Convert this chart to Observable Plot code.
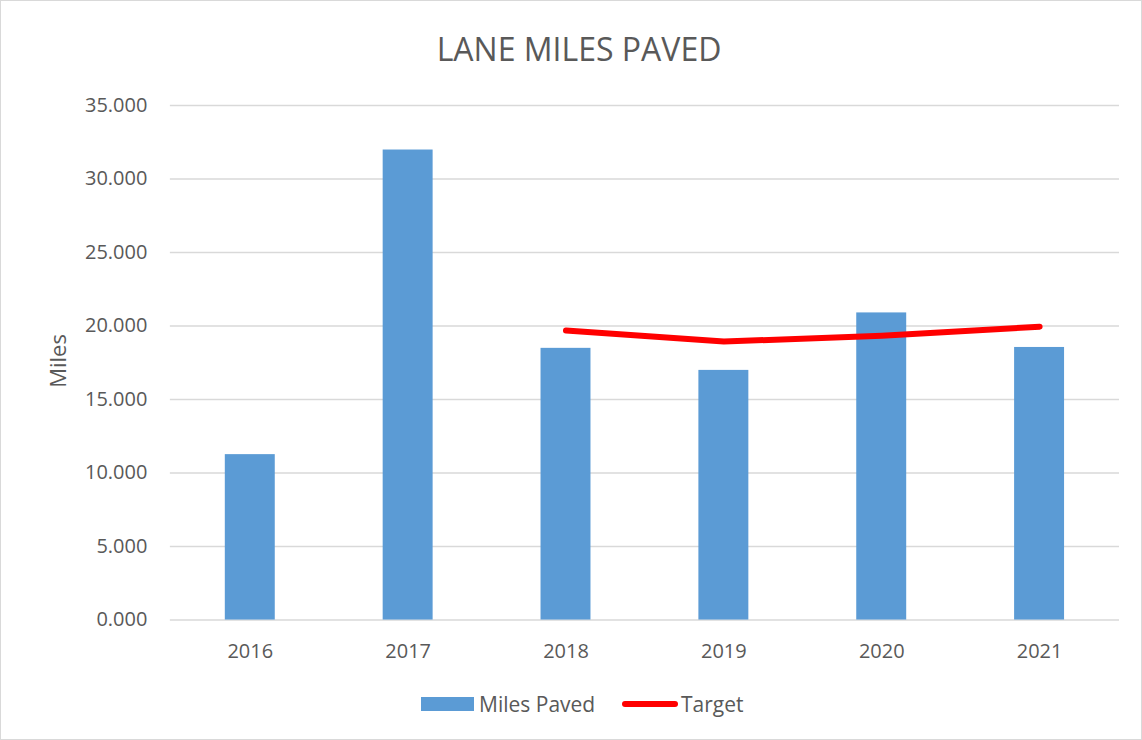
<!DOCTYPE html>
<html>
<head>
<meta charset="utf-8">
<script src="https://cdn.jsdelivr.net/npm/d3@7"></script>
<script src="https://cdn.jsdelivr.net/npm/@observablehq/plot@0.6"></script>
<style>
  html, body { margin: 0; padding: 0; background: #fff; }
  #wrap { position: relative; width: 1140px; height: 738px; border: 1px solid #d9d9d9; font-family: "Open Sans", sans-serif; color: #595959; overflow: hidden; }
  #title { position: absolute; left: 0; width: 1156px; top: 28px; text-align: center; font-size: 32px; line-height: 40px; color: #595959; }
  #chart { position: absolute; left: -1px; top: 79px; }
  #ylabel { position: absolute; left: 56px; top: 360px; transform: translate(-50%, -50%) rotate(-90deg); font-size: 22px; white-space: nowrap; }
  #legend { position: absolute; top: 689px; left: 0; width: 1140px; height: 28px; }
  .sw { position: absolute; }
  .lt { position: absolute; font-size: 21px; line-height: 28px; top: 0; white-space: nowrap; }
</style>
</head>
<body>
<div id="wrap">
  <div id="title">LANE MILES PAVED</div>
  <div id="ylabel">Miles</div>
  <div id="chart"></div>
  <div id="legend">
    <div class="sw" style="left:420px;top:7px;width:53px;height:14px;background:#5b9bd5"></div>
    <div class="lt" style="left:478px">Miles Paved</div>
    <div class="sw" style="left:621px;top:11px;width:56px;height:6px;background:#ff0000;border-radius:3px"></div>
    <div class="lt" style="left:680px">Target</div>
  </div>
</div>
<script>
const years = ["2016", "2017", "2018", "2019", "2020", "2021"];
const milesPaved = [11.25, 31.97, 18.48, 16.98, 20.89, 18.54];
const targetYears = ["2018", "2019", "2020", "2021"];
const targetValues = [19.69, 18.94, 19.34, 19.95];
const yTicks = [0, 5, 10, 15, 20, 25, 30, 35];

const bars = years.map((y, i) => ({year: y, value: milesPaved[i]}));
const target = targetYears.map((y, i) => ({year: y, value: targetValues[i]}));

const chart = Plot.plot({
  width: 1142,
  height: 600,
  marginTop: 25,
  marginBottom: 60,
  marginLeft: 170,
  marginRight: 22,
  style: {fontFamily: "Open Sans, sans-serif", fontSize: "20px", color: "#595959", background: "transparent"},
  x: {domain: years, paddingInner: 0.685, paddingOuter: 0.3425, label: null, tickSize: 0, tickPadding: 24},
  y: {domain: [0, 35], ticks: yTicks, tickFormat: d3.format(".3f"), label: null, tickSize: 0, tickPadding: 23},
  marks: [
    Plot.gridY(yTicks, {stroke: "#d9d9d9", strokeOpacity: 1, strokeWidth: 1.5}),
    Plot.barY(bars, {x: "year", y: "value", fill: "#5b9bd5"}),
    Plot.line(target, {x: "year", y: "value", stroke: "#ff0000", strokeWidth: 6, strokeLinecap: "round", strokeLinejoin: "round"})
  ]
});
document.getElementById("chart").appendChild(chart);
</script>
</body>
</html>
